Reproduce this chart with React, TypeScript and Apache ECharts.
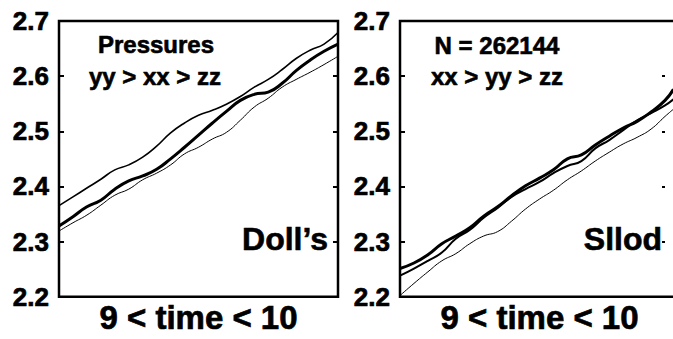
import React, { useEffect, useRef } from "react";
import * as echarts from "echarts";

const timesLeft = [9.0, 9.05, 9.1, 9.15, 9.2, 9.25, 9.3, 9.35, 9.4, 9.45, 9.5, 9.55, 9.6, 9.65, 9.7, 9.75, 9.8, 9.85, 9.9, 9.95, 10.0];
const yyLeft = [2.365, 2.381, 2.397, 2.413, 2.43, 2.439, 2.453, 2.473, 2.497, 2.515, 2.529, 2.538, 2.549, 2.563, 2.58, 2.594, 2.612, 2.632, 2.647, 2.658, 2.679];
const xxLeft = [2.328, 2.345, 2.363, 2.375, 2.395, 2.41, 2.419, 2.431, 2.45, 2.471, 2.493, 2.515, 2.536, 2.556, 2.567, 2.571, 2.587, 2.61, 2.629, 2.645, 2.658];
const zzLeft = [2.319, 2.334, 2.348, 2.366, 2.384, 2.395, 2.412, 2.424, 2.439, 2.459, 2.471, 2.486, 2.498, 2.52, 2.544, 2.56, 2.58, 2.594, 2.607, 2.621, 2.636];

const timesRight = [9.0, 9.05, 9.1, 9.15, 9.2, 9.25, 9.3, 9.35, 9.4, 9.45, 9.5, 9.55, 9.6, 9.65, 9.7, 9.75, 9.8, 9.85, 9.9, 9.95, 9.98];
const xxRight = [2.251, 2.261, 2.276, 2.296, 2.31, 2.325, 2.346, 2.363, 2.383, 2.401, 2.415, 2.43, 2.45, 2.457, 2.475, 2.491, 2.506, 2.518, 2.535, 2.556, 2.576];
const yyRight = [2.238, 2.251, 2.265, 2.28, 2.305, 2.321, 2.343, 2.361, 2.381, 2.395, 2.408, 2.424, 2.437, 2.446, 2.469, 2.484, 2.502, 2.52, 2.533, 2.547, 2.558];
const zzRight = [2.202, 2.224, 2.245, 2.265, 2.278, 2.296, 2.31, 2.318, 2.337, 2.359, 2.377, 2.393, 2.412, 2.428, 2.446, 2.462, 2.477, 2.489, 2.504, 2.527, 2.54];

const yMin = 2.2;
const yMax = 2.7;
const yStep = 0.1;
const xAxisTitle = "9 < time < 10";
const leftNotes = ["Pressures", "yy > xx > zz"];
const rightNotes = ["N = 262144", "xx > yy > zz"];
const leftTag = "Doll\u2019s";
const rightTag = "Sllod";

const FONT = "'Liberation Sans', Arial, Helvetica, sans-serif";

function pairs(t: number[], v: number[]) {
  return t.map((x, i) => [x, v[i]]);
}

export default function App() {
  const ref = useRef<HTMLDivElement>(null);
  useEffect(() => {
    if (!ref.current) return;
    const chart = echarts.init(ref.current, null, { renderer: "svg" });
    const yLeftAxis = (gi: number) => ({
      type: "value",
      gridIndex: gi,
      position: "left",
      min: yMin,
      max: yMax,
      interval: yStep,
      axisLine: { show: false },
      splitLine: { show: false },
      axisTick: { show: true, inside: true, length: 5, lineStyle: { color: "#000", width: 2 } },
      axisLabel: {
        show: true,
        margin: 10,
        color: "#000",
        fontFamily: FONT,
        fontWeight: "bold",
        fontSize: 26,
        textBorderColor: "#000",
        textBorderWidth: 0.7,
        padding: [0, 0, 10, 0],
        formatter: (v: number) => v.toFixed(1),
      },
    });
    const yRightAxis = (gi: number, offset: number, len: number) => ({
      type: "value",
      gridIndex: gi,
      position: "right",
      offset,
      min: yMin,
      max: yMax,
      interval: yStep,
      axisLine: { show: false },
      splitLine: { show: false },
      axisTick: { show: true, inside: true, length: len, lineStyle: { color: "#000", width: 2 } },
      axisLabel: { show: false },
    });
    const xAx = (gi: number) => ({
      type: "value",
      gridIndex: gi,
      min: 9,
      max: 10,
      axisLine: { show: false },
      axisTick: { show: false },
      splitLine: { show: false },
      axisLabel: { show: false },
      name: xAxisTitle,
      nameLocation: "middle",
      nameGap: 4,
      nameTextStyle: {
        color: "#000",
        fontFamily: FONT,
        fontWeight: "bold",
        fontSize: 33,
        textBorderColor: "#000",
        textBorderWidth: 0.7,
        verticalAlign: "top",
      },
    });
    const line = (data: number[][], width: number, xi: number, yi: number) => ({
      type: "line",
      xAxisIndex: xi,
      yAxisIndex: yi,
      data,
      smooth: true,
      symbol: "none",
      lineStyle: { color: "#000", width },
    });
    const textEl = (txt: string, x: number, y: number, size: number, align: string) => ({
      type: "text",
      x,
      y,
      style: {
        text: txt,
        fill: "#000",
        stroke: "#000",
        lineWidth: 0.6,
        font: `bold ${size}px ${FONT}`,
        textAlign: align,
        textVerticalAlign: "middle",
      },
    });
    chart.setOption({
      animation: false,
      grid: [
        { left: 59, top: 21, width: 279, height: 277, show: true, borderColor: "#000", borderWidth: 2.5, backgroundColor: "transparent" },
        { left: 400, top: 21, width: 279, height: 277, show: true, borderColor: "#000", borderWidth: 2.5, backgroundColor: "transparent" },
      ],
      xAxis: [xAx(0), xAx(1)],
      yAxis: [yLeftAxis(0), yRightAxis(0, 0, 5), yLeftAxis(1), yRightAxis(1, -14, 3)],
      series: [
        line(pairs(timesLeft, yyLeft), 1.6, 0, 0),
        line(pairs(timesLeft, xxLeft), 3, 0, 0),
        line(pairs(timesLeft, zzLeft), 1, 0, 0),
        line(pairs(timesRight, xxRight), 3, 1, 2),
        line(pairs(timesRight, yyRight), 2, 1, 2),
        line(pairs(timesRight, zzRight), 1, 1, 2),
      ],
      graphic: [
        textEl(leftNotes[0], 156, 44, 24, "center"),
        textEl(leftNotes[1], 155, 76, 24, "center"),
        textEl(rightNotes[0], 497, 45, 24, "center"),
        textEl(rightNotes[1], 497, 76, 24, "center"),
        textEl(leftTag, 328, 239, 32, "right"),
        textEl(rightTag, 662, 239, 32, "right"),
      ],
    });
    return () => chart.dispose();
  }, []);
  return (
    <div style={{ position: "absolute", left: 0, top: 0, width: 673, height: 339, overflow: "hidden", background: "#fff" }}>
      <div ref={ref} style={{ width: 690, height: 339 }} />
    </div>
  );
}
